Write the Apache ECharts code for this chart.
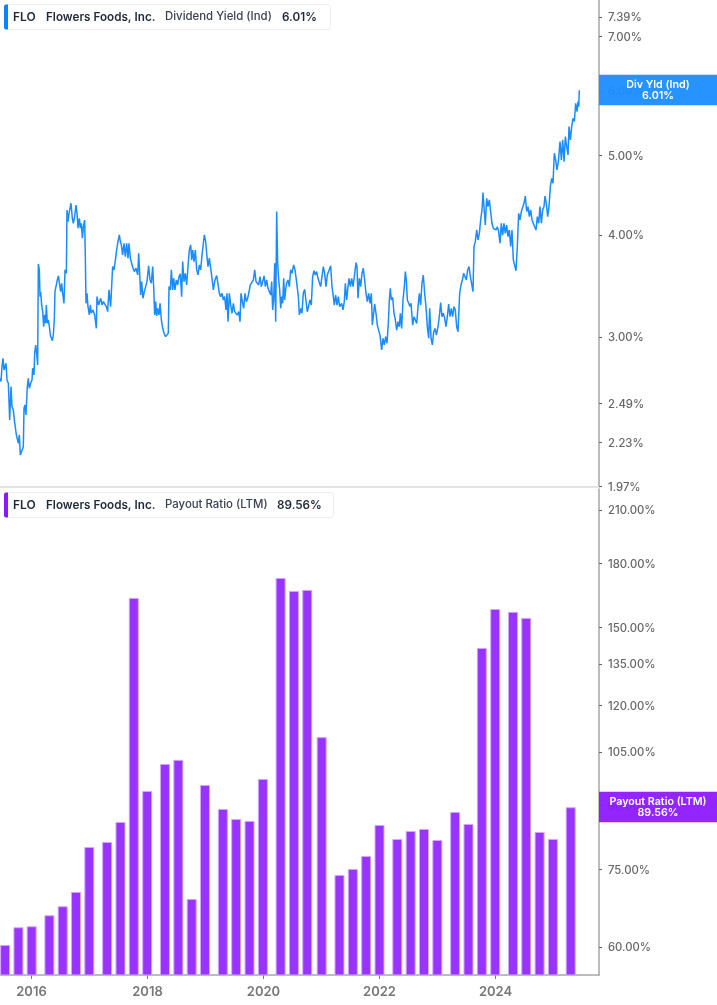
<!DOCTYPE html>
<html>
<head>
<meta charset="utf-8">
<title>FLO dividend yield and payout ratio</title>
<script src="https://cdn.jsdelivr.net/npm/echarts@6/dist/echarts.min.js"></script>
<style>
  html, body { margin: 0; padding: 0; background: #fff; }
  #chart { width: 717px; height: 1005px; }
</style>
</head>
<body>
<div id="chart"></div>
<script>
const yieldYears = [
  2015.457, 2015.474, 2015.491, 2015.509, 2015.526, 2015.543, 2015.560, 2015.578, 2015.601, 2015.624,
  2015.647, 2015.664, 2015.687, 2015.704, 2015.721, 2015.739, 2015.756, 2015.773, 2015.790, 2015.808,
  2015.836, 2015.859, 2015.871, 2015.888, 2015.905, 2015.928, 2015.945, 2015.963, 2015.986, 2016.009,
  2016.020, 2016.043, 2016.055, 2016.072, 2016.089, 2016.106, 2016.118, 2016.135, 2016.147, 2016.158,
  2016.175, 2016.193, 2016.210, 2016.227, 2016.244, 2016.256, 2016.273, 2016.290, 2016.308, 2016.325,
  2016.342, 2016.359, 2016.377, 2016.394, 2016.405, 2016.434, 2016.445, 2016.463, 2016.480, 2016.503,
  2016.520, 2016.537, 2016.560, 2016.578, 2016.601, 2016.612, 2016.629, 2016.647, 2016.681, 2016.704,
  2016.721, 2016.744, 2016.767, 2016.785, 2016.802, 2016.825, 2016.842, 2016.859, 2016.877, 2016.894,
  2016.917, 2016.928, 2016.940, 2016.957, 2016.974, 2016.997, 2017.014, 2017.032, 2017.060, 2017.089,
  2017.118, 2017.129, 2017.158, 2017.193, 2017.216, 2017.239, 2017.267, 2017.290, 2017.313, 2017.336,
  2017.365, 2017.399, 2017.422, 2017.445, 2017.468, 2017.491, 2017.514, 2017.532, 2017.549, 2017.572,
  2017.595, 2017.618, 2017.641, 2017.664, 2017.681, 2017.704, 2017.727, 2017.750, 2017.773, 2017.802,
  2017.831, 2017.848, 2017.865, 2017.882, 2017.899, 2017.922, 2017.945, 2017.968, 2017.991, 2018.020,
  2018.043, 2018.066, 2018.089, 2018.106, 2018.124, 2018.141, 2018.158, 2018.175, 2018.198, 2018.216,
  2018.239, 2018.262, 2018.285, 2018.313, 2018.342, 2018.359, 2018.371, 2018.394, 2018.411, 2018.434,
  2018.451, 2018.474, 2018.497, 2018.520, 2018.543, 2018.566, 2018.589, 2018.606, 2018.629, 2018.652,
  2018.675, 2018.698, 2018.721, 2018.744, 2018.762, 2018.779, 2018.802, 2018.825, 2018.848, 2018.871,
  2018.894, 2018.917, 2018.940, 2018.963, 2018.980, 2019.003, 2019.020, 2019.043, 2019.066, 2019.089,
  2019.112, 2019.135, 2019.164, 2019.193, 2019.216, 2019.239, 2019.261, 2019.284, 2019.307, 2019.330,
  2019.353, 2019.371, 2019.388, 2019.411, 2019.434, 2019.457, 2019.480, 2019.503, 2019.526, 2019.549,
  2019.572, 2019.595, 2019.612, 2019.635, 2019.658, 2019.681, 2019.704, 2019.727, 2019.750, 2019.773,
  2019.796, 2019.825, 2019.848, 2019.871, 2019.894, 2019.917, 2019.940, 2019.963, 2019.986, 2020.009,
  2020.032, 2020.055, 2020.078, 2020.101, 2020.124, 2020.141, 2020.158, 2020.175, 2020.193, 2020.210,
  2020.227, 2020.244, 2020.262, 2020.279, 2020.296, 2020.313, 2020.331, 2020.348, 2020.365, 2020.382,
  2020.399, 2020.422, 2020.445, 2020.468, 2020.491, 2020.520, 2020.543, 2020.566, 2020.589, 2020.601,
  2020.618, 2020.629, 2020.646, 2020.663, 2020.686, 2020.709, 2020.732, 2020.755, 2020.778, 2020.801,
  2020.824, 2020.847, 2020.870, 2020.893, 2020.916, 2020.939, 2020.962, 2020.985, 2021.008, 2021.031,
  2021.054, 2021.077, 2021.100, 2021.123, 2021.158, 2021.181, 2021.204, 2021.221, 2021.244, 2021.267,
  2021.290, 2021.313, 2021.347, 2021.370, 2021.393, 2021.411, 2021.434, 2021.457, 2021.474, 2021.497,
  2021.520, 2021.543, 2021.566, 2021.595, 2021.612, 2021.629, 2021.652, 2021.675, 2021.698, 2021.721,
  2021.744, 2021.767, 2021.790, 2021.813, 2021.836, 2021.859, 2021.876, 2021.893, 2021.916, 2021.939,
  2021.962, 2021.985, 2022.008, 2022.037, 2022.060, 2022.083, 2022.106, 2022.129, 2022.152, 2022.169,
  2022.186, 2022.204, 2022.227, 2022.250, 2022.273, 2022.296, 2022.319, 2022.342, 2022.359, 2022.382,
  2022.405, 2022.428, 2022.445, 2022.462, 2022.480, 2022.503, 2022.526, 2022.543, 2022.572, 2022.595,
  2022.618, 2022.641, 2022.664, 2022.687, 2022.709, 2022.732, 2022.755, 2022.778, 2022.801, 2022.824,
  2022.847, 2022.865, 2022.888, 2022.911, 2022.934, 2022.957, 2022.980, 2023.008, 2023.031, 2023.054,
  2023.077, 2023.100, 2023.123, 2023.146, 2023.169, 2023.192, 2023.215, 2023.238, 2023.261, 2023.284,
  2023.307, 2023.330, 2023.353, 2023.370, 2023.382, 2023.405, 2023.428, 2023.451, 2023.474, 2023.497,
  2023.520, 2023.543, 2023.566, 2023.589, 2023.612, 2023.629, 2023.652, 2023.675, 2023.698, 2023.721,
  2023.744, 2023.767, 2023.784, 2023.801, 2023.824, 2023.847, 2023.870, 2023.893, 2023.916, 2023.939,
  2023.962, 2023.985, 2024.008, 2024.031, 2024.054, 2024.077, 2024.100, 2024.123, 2024.146, 2024.169,
  2024.192, 2024.215, 2024.238, 2024.261, 2024.284, 2024.307, 2024.330, 2024.353, 2024.376, 2024.399,
  2024.422, 2024.445, 2024.468, 2024.491, 2024.514, 2024.537, 2024.560, 2024.583, 2024.606, 2024.629,
  2024.652, 2024.675, 2024.698, 2024.721, 2024.744, 2024.767, 2024.790, 2024.813, 2024.836, 2024.853,
  2024.876, 2024.899, 2024.922, 2024.945, 2024.968, 2024.991, 2025.014, 2025.037, 2025.060, 2025.083,
  2025.112, 2025.135, 2025.158, 2025.181, 2025.204, 2025.227, 2025.250, 2025.267, 2025.290, 2025.313,
  2025.336, 2025.359, 2025.382, 2025.405, 2025.422, 2025.434, 2025.445
];
const yieldValues = [
  2.67, 2.646, 2.759, 2.825, 2.734, 2.759, 2.786, 2.658, 2.633, 2.375,
  2.609, 2.465, 2.443, 2.375, 2.375, 2.277, 2.287, 2.224, 2.277, 2.152,
  2.146, 2.202, 2.454, 2.477, 2.408, 2.609, 2.67, 2.596, 2.633, 2.658,
  2.747, 2.696, 2.865, 2.933, 2.865, 2.772, 3.685, 3.624, 3.361, 3.408,
  3.283, 3.222, 3.089, 3.192, 3.118, 3.283, 3.118, 3.147, 3.089, 3.017,
  2.989, 2.969, 3.017, 3.162, 3.408, 3.425, 3.523, 3.563, 3.55, 3.408,
  3.49, 3.392, 3.298, 3.624, 3.589, 4.29, 4.151, 4.25, 4.372, 4.191,
  4.132, 4.21, 4.35, 4.25, 4.075, 4.191, 4.075, 4.132, 3.961, 4.094,
  4.17, 3.762, 3.298, 3.392, 3.268, 3.192, 3.283, 3.207, 3.237, 3.192,
  3.074, 3.361, 3.283, 3.345, 3.283, 3.314, 3.298, 3.268, 3.222, 3.425,
  3.268, 3.658, 3.624, 3.72, 3.833, 3.925, 3.999, 3.925, 3.888, 3.78,
  3.906, 3.762, 3.906, 3.745, 3.906, 3.745, 3.727, 3.641, 3.607, 3.641,
  3.573, 3.797, 3.589, 3.377, 3.506, 3.345, 3.408, 3.457, 3.506, 3.665,
  3.523, 3.49, 3.658, 3.457, 3.192, 3.314, 3.183, 3.252, 3.192, 3.298,
  3.147, 3.074, 3.031, 3.003, 2.997, 3.031, 3.457, 3.425, 3.624, 3.425,
  3.54, 3.425, 3.523, 3.473, 3.556, 3.583, 3.361, 3.71, 3.506, 3.589,
  3.473, 3.658, 3.833, 3.888, 3.727, 3.833, 3.71, 3.833, 3.624, 3.573,
  3.675, 3.624, 3.78, 3.906, 3.999, 3.925, 3.797, 3.658, 3.745, 3.641,
  3.54, 3.425, 3.523, 3.566, 3.556, 3.392, 3.361, 3.392, 3.329, 3.361,
  3.237, 3.392, 3.132, 3.392, 3.283, 3.207, 3.298, 3.222, 3.237, 3.192,
  3.222, 3.132, 3.392, 3.314, 3.252, 3.392, 3.314, 3.345, 3.408, 3.473,
  3.49, 3.523, 3.624, 3.506, 3.523, 3.473, 3.556, 3.457, 3.506, 3.563,
  3.457, 3.523, 3.441, 3.457, 3.377, 3.506, 3.237, 3.329, 3.692, 3.132,
  4.27, 3.692, 3.523, 3.425, 3.252, 3.361, 3.298, 3.54, 3.329, 3.425,
  3.49, 3.523, 3.457, 3.624, 3.589, 3.675, 3.624, 3.523, 3.54, 3.361,
  3.192, 3.207, 3.252, 3.207, 3.393, 3.431, 3.425, 3.221, 3.207, 3.329,
  3.282, 3.555, 3.615, 3.572, 3.606, 3.539, 3.522, 3.457, 3.555, 3.657,
  3.589, 3.457, 3.572, 3.555, 3.667, 3.457, 3.361, 3.282, 3.376, 3.282,
  3.361, 3.268, 3.298, 3.237, 3.314, 3.49, 3.329, 3.457, 3.539, 3.457,
  3.539, 3.457, 3.555, 3.699, 3.657, 3.345, 3.539, 3.457, 3.589, 3.64,
  3.522, 3.393, 3.314, 3.393, 3.298, 3.393, 3.102, 3.117, 3.292, 3.207,
  3.102, 3.088, 3.016, 2.892, 2.989, 2.933, 3.003, 2.947, 3.117, 3.329,
  3.441, 3.329, 3.353, 3.207, 3.147, 3.059, 3.132, 3.088, 3.207, 3.073,
  3.329, 3.457, 3.606, 3.522, 3.329, 3.345, 3.268, 3.298, 3.102, 3.176,
  3.176, 3.117, 3.268, 3.393, 3.282, 3.49, 3.572, 3.393, 3.268, 3.088,
  2.989, 3.252, 2.989, 2.933, 3.044, 3.073, 3.016, 3.088, 3.176, 3.304,
  3.176, 3.207, 3.161, 3.088, 3.176, 3.292, 3.176, 3.252, 3.176, 3.268,
  3.237, 3.088, 3.044, 3.059, 3.393, 3.473, 3.522, 3.589, 3.589, 3.522,
  3.623, 3.657, 3.555, 3.555, 3.408, 3.871, 3.924, 4.055, 3.943, 4.017,
  4.171, 4.29, 4.505, 4.331, 4.112, 4.434, 4.331, 4.413, 4.271, 4.132,
  4.074, 4.093, 4.055, 4.093, 4.036, 3.906, 4.132, 3.997, 4.132, 4.017,
  4.112, 3.979, 4.055, 3.871, 4.055, 3.727, 3.71, 3.615, 3.871, 4.25,
  4.171, 4.271, 4.29, 4.371, 4.462, 4.271, 4.331, 4.21, 4.29, 4.171,
  4.191, 4.093, 4.055, 4.21, 4.132, 4.331, 4.132, 4.29, 4.331, 4.462,
  4.371, 4.21, 4.331, 4.582, 4.69, 4.625, 5.033, 4.939, 4.802, 4.915,
  5.201, 4.939, 5.226, 4.915, 5.275, 5.128, 5.009, 5.425, 5.226, 5.425,
  5.554, 5.503, 5.794, 5.66, 5.821, 5.739, 6.01
];

// payout ratio by fiscal quarter end, decimal year
const payoutYears = [
  2015.545, 2015.775, 2016.003, 2016.309, 2016.538, 2016.768, 2016.997, 2017.304,
  2017.534, 2017.764, 2017.995, 2018.301, 2018.532, 2018.762, 2018.992, 2019.299,
  2019.529, 2019.759, 2019.989, 2020.295, 2020.525, 2020.754, 2021.003, 2021.310,
  2021.540, 2021.770, 2022.000, 2022.307, 2022.537, 2022.767, 2022.997, 2023.304,
  2023.534, 2023.764, 2023.995, 2024.301, 2024.530, 2024.760, 2024.989, 2025.296
];
const payoutValues = [
  60.35, 63.49, 63.67, 65.71, 67.43, 70.25, 79.92, 81.08,
  85.86, 163.2, 93.84, 101.4, 102.6, 68.85, 95.47, 89.12,
  86.6, 86.11, 97.12, 172.8, 166.5, 167.0, 109.5, 73.76,
  75.04, 77.89, 85.13, 81.77, 83.67, 84.16, 81.54, 88.36,
  85.37, 141.4, 158.1, 156.8, 154.1, 83.43, 81.77, 89.56
];

const yieldTicks = [7.39, 7, 6, 5, 4, 3, 2.49, 2.23, 1.97];
const payoutTicks = [210, 180, 150, 135, 120, 105, 90, 75, 60];
const yearTicks = [2016, 2018, 2020, 2022, 2024];

const BLUE = '#1a8cff';
const PURPLE = '#9933ff';
const FONT = 'Inter, "Noto Sans", sans-serif';

const xMin = 2015.457;
const xMax = 2025.784;

const pct = (v) => Number(v).toFixed(2) + '%';

const yAxisBase = {
  type: 'log',
  position: 'right',
  axisLine: { show: true, onZero: false, lineStyle: { color: '#a6a6a6', width: 1.5 } },
  axisTick: { show: true, length: 3, lineStyle: { color: '#666', width: 1 } },
  axisLabel: {
    margin: 9,
    formatter: (v) => '{v|' + pct(v) + '}',
    rich: { v: { color: '#666', fontFamily: FONT, fontSize: 11.3, fontWeight: 500, padding: [2, 0, 0, 0] } }
  },
  splitLine: { show: false },
  minorTick: { show: false },
  minorSplitLine: { show: false }
};

const chart = echarts.init(document.getElementById('chart'), null, { renderer: 'canvas' });

chart.setOption({
  animation: false,
  backgroundColor: '#fff',
  grid: [
    { left: 0, top: 0, width: 599, height: 487 },
    { left: 0, top: 489, width: 599, height: 486 }
  ],
  xAxis: [
    {
      type: 'value', gridIndex: 0, min: xMin, max: xMax,
      axisLine: { show: true, lineStyle: { color: '#e2e2e2', width: 2 } },
      axisTick: { show: false }, axisLabel: { show: false }, splitLine: { show: false }
    },
    {
      type: 'value', gridIndex: 1, min: xMin, max: xMax,
      axisLine: { show: true, lineStyle: { color: '#a6a6a6', width: 1.5 } },
      axisTick: { show: true, length: 4, lineStyle: { color: '#777' }, customValues: yearTicks },
      axisLabel: {
        color: '#777', fontFamily: FONT, fontSize: 13, fontWeight: 600, margin: 11,
        customValues: yearTicks,
        formatter: (v) => String(Math.round(v))
      },
      splitLine: { show: false }
    }
  ],
  yAxis: [
    Object.assign({}, yAxisBase, {
      gridIndex: 0, min: 1.966, max: 7.75,
      axisTick: Object.assign({}, yAxisBase.axisTick, { customValues: yieldTicks }),
      axisLabel: Object.assign({}, yAxisBase.axisLabel, { customValues: yieldTicks })
    }),
    Object.assign({}, yAxisBase, {
      gridIndex: 1, min: 55.37, max: 223,
      axisTick: Object.assign({}, yAxisBase.axisTick, { customValues: payoutTicks }),
      axisLabel: Object.assign({}, yAxisBase.axisLabel, { customValues: payoutTicks })
    })
  ],
  series: [
    {
      type: 'line', xAxisIndex: 0, yAxisIndex: 0,
      data: yieldYears.map((y, i) => [y, yieldValues[i]]),
      showSymbol: false, smooth: false, sampling: false,
      lineStyle: { color: BLUE, width: 1.5 }
    },
    {
      type: 'bar', xAxisIndex: 1, yAxisIndex: 1,
      data: payoutYears.map((y, i) => [y, payoutValues[i]]),
      barWidth: 10,
      itemStyle: { color: PURPLE, borderColor: '#cfa8ff', borderWidth: 1 }
    }
  ]
});

// legend chips and the value tags beside the axis
const chip = (top, color, width, name, valueX, value) => [
  { type: 'rect', shape: { x: 4.5, y: top + 0.5, width: width, height: 25, r: 3 }, style: { fill: '#fff', stroke: '#eeeeee', lineWidth: 1 }, z: 50 },
  { type: 'rect', shape: { x: 4, y: top + 0.5, width: 4, height: 25, r: [2, 0, 0, 2] }, style: { fill: color }, z: 51 },
  { type: 'text', x: 13, y: top + 13, style: { text: 'FLO', fill: '#1f2937', font: '600 12px ' + FONT, textVerticalAlign: 'middle' }, z: 52 },
  { type: 'text', x: 46, y: top + 13, style: { text: 'Flowers Foods, Inc.', fill: '#1f2937', font: '600 11.7px ' + FONT, textVerticalAlign: 'middle' }, z: 52 },
  { type: 'text', x: 165, y: top + 13, style: { text: name, fill: '#374151', font: '500 11.4px ' + FONT, textVerticalAlign: 'middle' }, z: 52 },
  { type: 'text', x: valueX, y: top + 13, style: { text: value, fill: '#1f2937', font: '600 11.7px ' + FONT, textVerticalAlign: 'middle' }, z: 52 }
];

const tag = (axisIndex, value, color, label) => {
  const y = chart.convertToPixel({ yAxisIndex: axisIndex }, value);
  return [
    { type: 'rect', shape: { x: 599, y: y - 15.5, width: 118, height: 30.5 }, style: { fill: color, opacity: 0.94 }, z: 50 },
    { type: 'text', x: 658, y: y - 5, style: { text: label, fill: '#fff', font: '600 10.7px ' + FONT, textAlign: 'center', textVerticalAlign: 'middle' }, z: 52 },
    { type: 'text', x: 658, y: y + 6, style: { text: pct(value), fill: '#fff', font: '600 10.7px ' + FONT, textAlign: 'center', textVerticalAlign: 'middle' }, z: 52 }
  ];
};

chart.setOption({
  graphic: [].concat(
    chip(4, '#0a84ff', 326, 'Dividend Yield (Ind)', 282, '6.01%'),
    chip(492, '#8c18ff', 329, 'Payout Ratio (LTM)', 277, '89.56%'),
    tag(0, 6.01, BLUE, 'Div Yld (Ind)'),
    tag(1, 89.56, '#8c18ff', 'Payout Ratio (LTM)')
  )
});
</script>
</body>
</html>
